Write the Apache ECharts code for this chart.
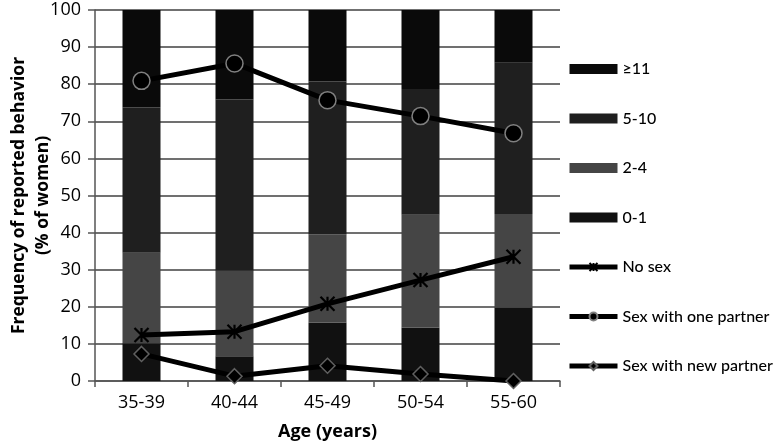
<!DOCTYPE html>
<html><head><meta charset="utf-8">
<script src="https://cdn.jsdelivr.net/npm/echarts@6/dist/echarts.min.js"></script>
<style>html,body{margin:0;padding:0;background:#fff}#c{width:779px;height:447px}</style>
</head><body><div id="c"></div>
<script>
const categories = ['35-39','40-44','45-49','50-54','55-60'];
const yTicks = [0,10,20,30,40,50,60,70,80,90,100];
const freq0_1  = [10.2, 6.7, 15.8, 14.4, 19.8];
const freq2_4  = [24.4, 23.0, 23.7, 30.4, 25.2];
const freq5_10 = [39.1, 46.2, 41.2, 33.9, 40.8];
const freq11   = [26.3, 24.1, 19.3, 21.3, 14.2];
const noSex      = [12.4, 13.3, 20.8, 27.2, 33.5];
const onePartner = [80.9, 85.6, 75.7, 71.4, 66.8];
const newPartner = [7.3, 1.3, 4.1, 1.9, 0];

const FONT = '"Open Sans"';
const chart = echarts.init(document.getElementById('c'), null, {renderer:'canvas'});
const barW = 38;
function bar(name, data, color){
  return {name, type:'bar', stack:'f', data, barWidth:barW, itemStyle:{color}, z:2, emphasis:{disabled:true}};
}
const star = 'path://M0,0L10,10M10,0L0,10M5,0L5,10';
chart.setOption({
  animation:false,
  backgroundColor:'#fff',
  textStyle:{fontFamily:FONT},
  grid:{left:95, right:219, top:10, bottom:66, containLabel:false, outerBoundsMode:'none'},
  legend:{
    orient:'vertical', left:567, top:60, padding:0, itemWidth:48, itemHeight:10, itemGap:31.5,
    lineStyle:{width:5, color:'#000'},
    textStyle:{fontFamily:'Lato', fontSize:16, color:'#000', lineHeight:18, fontWeight:500},
    data:[
      {name:'≥11', icon:'rect'},{name:'5-10', icon:'rect'},{name:'2-4', icon:'rect'},{name:'0-1', icon:'rect'},
      {name:'No sex'},{name:'Sex with one partner'},{name:'Sex with new partner'}
    ]
  },
  xAxis:{
    type:'category', data:categories, boundaryGap:true,
    name:'Age (years)', nameLocation:'middle', nameGap:42, nameMoveOverlap:false,
    nameTextStyle:{fontFamily:FONT, fontSize:18, fontWeight:'bold', color:'#000'},
    axisLine:{lineStyle:{color:'#555', width:1.5}},
    axisTick:{show:true, length:6, lineStyle:{color:'#555', width:1.5}},
    axisLabel:{fontFamily:FONT, fontSize:18, color:'#000', margin:13},
    splitLine:{show:false}
  },
  yAxis:{
    type:'value', min:0, max:100, interval:10,
    name:'Frequency of reported behavior\n(% of women)', nameLocation:'middle', nameGap:40, nameRotate:90,
    nameMoveOverlap:false,
    nameTextStyle:{fontFamily:FONT, fontSize:17.5, fontWeight:'bold', color:'#000', lineHeight:24},
    axisLine:{show:true, lineStyle:{color:'#555', width:1.5}},
    axisTick:{show:true, length:7, lineStyle:{color:'#555', width:1.5}},
    axisLabel:{fontFamily:FONT, fontSize:18, color:'#000', margin:14,
      formatter:v=> yTicks.includes(v)? String(v):''},
    splitLine:{show:true, lineStyle:{color:'#404040', width:1.5}}
  },
  series:[
    bar('0-1', freq0_1, '#111111'),
    bar('2-4', freq2_4, '#454545'),
    bar('5-10', freq5_10, '#1f1f1f'),
    bar('≥11', freq11, '#0a0a0a'),
    {name:'No sex', type:'line', data:noSex, z:5, symbol:star, symbolSize:14,
      lineStyle:{color:'#000', width:5}, itemStyle:{color:'#000', borderColor:'#000', borderWidth:2.2}},
    {name:'Sex with one partner', type:'line', data:onePartner, z:5, symbol:'circle', symbolSize:17,
      lineStyle:{color:'#000', width:5}, itemStyle:{color:'#000', borderColor:'#808080', borderWidth:1.5}},
    {name:'Sex with new partner', type:'line', data:newPartner, z:5, symbol:'diamond', symbolSize:15,
      lineStyle:{color:'#000', width:5}, itemStyle:{color:'#000', borderColor:'#606060', borderWidth:1.5}}
  ]
});
</script></body></html>
